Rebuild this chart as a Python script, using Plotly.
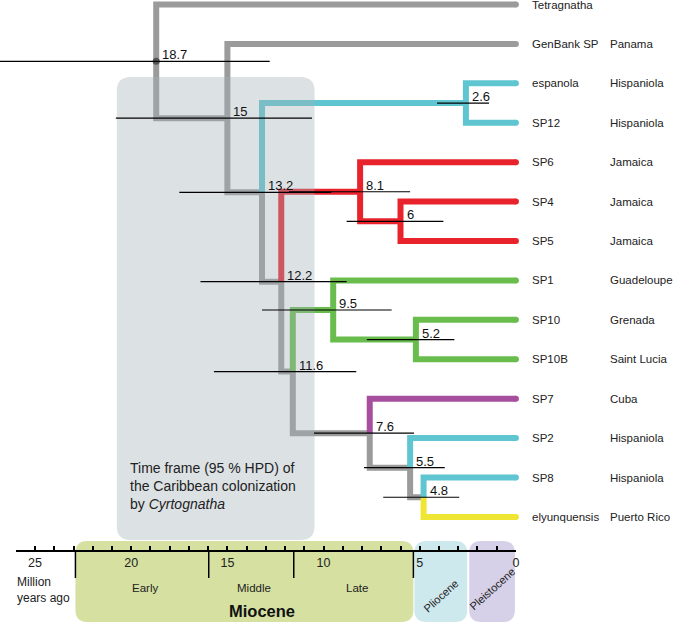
import plotly.graph_objects as go

# ---------------- data ----------------
TIPS = ["Tetragnatha", "GenBank SP", "espanola", "SP12", "SP6", "SP4", "SP5",
        "SP1", "SP10", "SP10B", "SP7", "SP2", "SP8", "elyunquensis"]
LOCALITIES = ["", "Panama", "Hispaniola", "Hispaniola", "Jamaica", "Jamaica", "Jamaica",
              "Guadeloupe", "Grenada", "Saint Lucia", "Cuba", "Hispaniola", "Hispaniola", "Puerto Rico"]

NODE_NAMES = ["n18.7", "n15", "n13.2", "n2.6", "n12.2", "n8.1", "n6",
              "n11.6", "n9.5", "n5.2", "n7.6", "n5.5", "n4.8"]
NODE_AGES = [18.7, 15, 13.2, 2.6, 12.2, 8.1, 6, 11.6, 9.5, 5.2, 7.6, 5.5, 4.8]
NODE_LABELS = ["18.7", "15", "13.2", "2.6", "12.2", "8.1", "6", "11.6", "9.5", "5.2", "7.6", "5.5", "4.8"]
HPD_OLD = [28.0, 20.8, 17.5, 4.1, 16.4, 11.8, 8.8, 15.7, 13.2, 7.75, 10.5, 7.9, 6.9]
HPD_YOUNG = [12.8, 10.6, 9.6, 1.4, 8.8, 5.5, 3.77, 8.3, 6.46, 3.2, 5.3, 3.7, 2.95]
NODE_CHILDREN = [["Tetragnatha", "n15"], ["GenBank SP", "n13.2"], ["n2.6", "n12.2"],
                 ["espanola", "SP12"], ["n8.1", "n11.6"], ["SP6", "n6"], ["SP4", "SP5"],
                 ["n9.5", "n7.6"], ["SP1", "n5.2"], ["SP10", "SP10B"], ["SP7", "n5.5"],
                 ["SP2", "n4.8"], ["SP8", "elyunquensis"]]
BRANCH_CLADE = {"Tetragnatha": "gray", "n15": "gray", "GenBank SP": "gray", "n13.2": "gray",
                "n2.6": "cyan", "espanola": "cyan", "SP12": "cyan", "n12.2": "gray",
                "n8.1": "red", "SP6": "red", "n6": "red", "SP4": "red", "SP5": "red",
                "n11.6": "gray", "n9.5": "green", "SP1": "green", "n5.2": "green",
                "SP10": "green", "SP10B": "green", "n7.6": "gray", "SP7": "purple",
                "n5.5": "gray", "SP2": "cyan", "n4.8": "gray", "SP8": "cyan",
                "elyunquensis": "yellow"}
CLADE_COLORS = {"gray": "#9B9B9B", "cyan": "#5FC6D1", "red": "#E8232C",
                "green": "#69BD4D", "purple": "#A74E9E", "yellow": "#EFE634"}

COLONIZATION_HPD = [20.75, 10.47]
EPOCH_NAMES = ["Miocene", "Pliocene", "Pleistocene"]
EPOCH_BOUNDS = [22.9, 5.33, 2.48, 0.0]
EPOCH_COLORS = ["#D5E0A1", "#CEE9EE", "#D6D0E8"]
SUBEPOCH_NAMES = ["Early", "Middle", "Late"]
SUBEPOCH_BOUNDS = [22.9, 15.97, 11.55, 5.33]
TICK_VALUES = [25, 20, 15, 10, 5, 0]

# ---------------- layout geometry ----------------
W, H = 675, 623
PX_PER_MA = 19.35
X0_PX = 519.0          # pixel of 0 Ma
TIP0_PX, TIP_STEP = 4.5, 39.42
XR = [X0_PX / PX_PER_MA, (X0_PX - W) / PX_PER_MA]
YR = [(H - TIP0_PX) / TIP_STEP, -TIP0_PX / TIP_STEP]
FONT = "Liberation Sans, Arial, sans-serif"


def py(px):
    return 1 - px / H


# ---------------- tree coordinates ----------------
age = {t: 0.0 for t in TIPS}
ypos = {t: float(i) for i, t in enumerate(TIPS)}
for n, a in zip(NODE_NAMES, NODE_AGES):
    age[n] = a
children = dict(zip(NODE_NAMES, NODE_CHILDREN))


def node_y(n):
    if n in ypos:
        return ypos[n]
    v = sum(node_y(c) for c in children[n]) / len(children[n])
    ypos[n] = v
    return v


for n in NODE_NAMES:
    node_y(n)

fig = go.Figure()

segs = {k: ([], []) for k in CLADE_COLORS}
for n in NODE_NAMES:
    for c in children[n]:
        xs, ys = segs[BRANCH_CLADE[c]]
        xs += [age[n], age[n], age[c], None]
        ys += [ypos[n], ypos[c], ypos[c], None]

for k in ["gray", "cyan", "red", "green", "purple", "yellow"]:
    xs, ys = segs[k]
    fig.add_trace(go.Scatter(x=xs, y=ys, mode="lines",
                             line=dict(color=CLADE_COLORS[k], width=6),
                             hoverinfo="skip", showlegend=False))

# round caps at tips
fig.add_trace(go.Scatter(x=[age[t] for t in TIPS], y=[ypos[t] for t in TIPS], mode="markers",
                         marker=dict(size=6, color=[CLADE_COLORS[BRANCH_CLADE[t]] for t in TIPS],
                                     line=dict(width=0)),
                         hoverinfo="skip", showlegend=False))

# root dot
fig.add_trace(go.Scatter(x=[age["n18.7"]], y=[ypos["n18.7"]], mode="markers",
                         marker=dict(size=7, color="#555555", line=dict(width=0)),
                         hoverinfo="skip", showlegend=False))

# dummy trace for the time axis
fig.add_trace(go.Scatter(x=[0], y=[-50], xaxis="x2", yaxis="y", mode="markers",
                         marker=dict(opacity=0), hoverinfo="skip", showlegend=False))

shapes = []


def rrect(a_left, a_right, top_px, bot_px, r_px, color, layer):
    dx = r_px / PX_PER_MA
    dy = r_px / H
    T, B = py(top_px), py(bot_px)
    L, R = a_left, a_right
    path = (f"M {L-dx},{T} L {R+dx},{T} Q {R},{T} {R},{T-dy} L {R},{B+dy} "
            f"Q {R},{B} {R+dx},{B} L {L-dx},{B} Q {L},{B} {L},{B+dy} "
            f"L {L},{T-dy} Q {L},{T} {L-dx},{T} Z")
    return dict(type="path", path=path, xref="x", yref="paper", fillcolor=color,
                line=dict(width=0), layer=layer)


# epoch boxes (small pixel gaps between them)
gaps_left = [0.0, 1.0, 1.0]
gaps_right = [0.0, 1.0, 1.0]
for i, (nm, col) in enumerate(zip(EPOCH_NAMES, EPOCH_COLORS)):
    a0 = EPOCH_BOUNDS[i] - gaps_left[i] / PX_PER_MA
    a1 = EPOCH_BOUNDS[i + 1] + gaps_right[i] / PX_PER_MA
    shapes.append(rrect(a0, a1, 541, 622, 12, col, "below"))

# colonization HPD box (semi-transparent, over tree)
shapes.append(rrect(COLONIZATION_HPD[0], COLONIZATION_HPD[1], 77, 540, 14,
                    "rgba(164,177,185,0.38)", "above"))

# node HPD bars
for n, lo, hi in zip(NODE_NAMES, HPD_OLD, HPD_YOUNG):
    shapes.append(dict(type="line", xref="x", yref="y", x0=lo, x1=hi, y0=ypos[n], y1=ypos[n],
                       line=dict(color="black", width=1.2), layer="above"))

# epoch boundary long ticks
for b in SUBEPOCH_BOUNDS:
    shapes.append(dict(type="line", xref="x", yref="paper", x0=b, x1=b, y0=py(551), y1=py(578),
                       line=dict(color="black", width=1.5)))

annotations = []
for n, lab in zip(NODE_NAMES, NODE_LABELS):
    annotations.append(dict(x=age[n], y=ypos[n], xref="x", yref="y", text=lab, showarrow=False,
                            xanchor="left", yanchor="bottom", xshift=4, yshift=-3,
                            font=dict(family=FONT, size=13, color="#111111")))
for t, loc in zip(TIPS, LOCALITIES):
    annotations.append(dict(x=0, y=ypos[t], xref="x", yref="y", text=t, showarrow=False,
                            xanchor="left", yanchor="middle", xshift=14,
                            font=dict(family=FONT, size=11.5, color="#222222")))
    if loc:
        annotations.append(dict(x=0, y=ypos[t], xref="x", yref="y", text=loc, showarrow=False,
                                xanchor="left", yanchor="middle", xshift=92,
                                font=dict(family=FONT, size=11.5, color="#222222")))

annotations.append(dict(x=COLONIZATION_HPD[0], y=py(486), xref="x", yref="paper",
                        text="Time frame (95 % HPD) of<br>the Caribbean colonization<br>by <i>Cyrtognatha</i>",
                        showarrow=False, xanchor="left", yanchor="middle", align="left", xshift=11,
                        font=dict(family=FONT, size=14, color="#222222")))

for i, nm in enumerate(SUBEPOCH_NAMES):
    mid = (SUBEPOCH_BOUNDS[i] + SUBEPOCH_BOUNDS[i + 1]) / 2
    annotations.append(dict(x=mid, y=py(588), xref="x", yref="paper", text=nm, showarrow=False,
                            xanchor="center", yanchor="middle", xshift=3,
                            font=dict(family=FONT, size=11.5, color="#222222")))
annotations.append(dict(x=(EPOCH_BOUNDS[0] + EPOCH_BOUNDS[1]) / 2, y=py(611), xref="x", yref="paper",
                        text="<b>Miocene</b>", showarrow=False, xanchor="center", yanchor="middle",
                        xshift=18, font=dict(family=FONT, size=16.5, color="#111111")))
for i in (1, 2):
    mid = (EPOCH_BOUNDS[i] + EPOCH_BOUNDS[i + 1]) / 2
    annotations.append(dict(x=mid, y=py(596 if i == 1 else 589), xref="x", yref="paper",
                            text=EPOCH_NAMES[i], showarrow=False, textangle=-42,
                            xanchor="center", yanchor="middle",
                            font=dict(family=FONT, size=11, color="#222222")))
annotations.append(dict(x=15 / W, y=py(590), xref="paper", yref="paper",
                        text="Million<br>years ago", showarrow=False, xanchor="left",
                        yanchor="middle", align="left",
                        font=dict(family=FONT, size=12, color="#222222")))

fig.update_layout(
    width=W, height=H, margin=dict(l=0, r=0, t=0, b=0),
    paper_bgcolor="white", plot_bgcolor="rgba(0,0,0,0)", showlegend=False,
    xaxis=dict(range=XR, visible=False, domain=[0, 1]),
    yaxis=dict(range=YR, visible=False, domain=[0, 1]),
    xaxis2=dict(range=[26, 0], domain=[(X0_PX - 26 * PX_PER_MA) / W, X0_PX / W],
                anchor="free", position=py(551), showline=True, linecolor="black",
                linewidth=1.5, ticks="inside", ticklen=4, tickwidth=1.5, tickcolor="black",
                tickvals=TICK_VALUES, ticktext=[str(v) for v in TICK_VALUES],
                minor=dict(tickvals=list(range(0, 27)), ticks="inside", ticklen=4,
                           tickwidth=1.5, tickcolor="black"),
                showgrid=False, zeroline=False,
                tickfont=dict(family=FONT, size=12.5, color="#222222")),
    shapes=shapes, annotations=annotations,
)

fig.write_html("out.html", config={"displayModeBar": False},
               post_script="document.body.style.margin='0px';document.body.style.overflow='hidden';")
